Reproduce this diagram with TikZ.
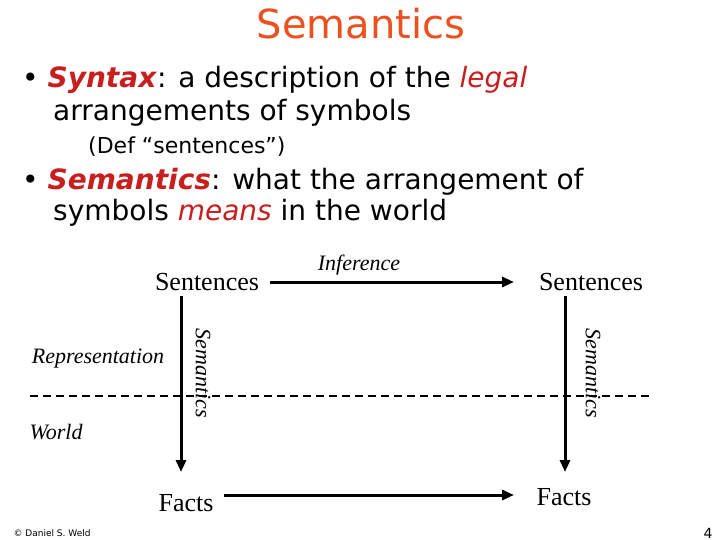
\documentclass[tikz,border=0pt]{standalone}
\usepackage{fontspec}
\setmainfont{Liberation Serif}
\newfontfamily\bul{DejaVu Sans}
\usetikzlibrary{arrows.meta}
\definecolor{ttl}{RGB}{235,80,30}
\definecolor{emr}{RGB}{200,30,30}
\tikzset{
  btxt/.style={anchor=base west,inner sep=0,font=\bul\fontsize{28}{32}\selectfont},
  sent/.style={inner sep=0,font=\fontsize{26}{30}\selectfont},
  lab/.style={inner sep=0,font=\itshape\fontsize{22}{26}\selectfont},
  arr/.style={line width=3pt,-{Triangle[length=12pt,width=10pt]}}
}
\begin{document}
\begin{tikzpicture}[x=1pt,y=-1pt]
\useasboundingbox (0,0) rectangle (720,540);
\node[inner sep=0,text=ttl,font=\bul\fontsize{40}{44}\selectfont] (title) at (361,24) {Semantics};
\node[btxt] (b1) at (22,88) {• \textcolor{emr}{\textbf{\textit{Syntax}}}: a description of the \textcolor{emr}{\textit{legal}}};
\node[btxt] (b1b) at (53,121) {arrangements of symbols};
\node[btxt,font=\bul\fontsize{22}{26}\selectfont] (def) at (88,154) {(Def “sentences”)};
\node[btxt] (b2) at (22,190) {• \textcolor{emr}{\textbf{\textit{Semantics}}}: what the arrangement of};
\node[btxt] (b2b) at (53,221) {symbols \textcolor{emr}{\textit{means}} in the world};
\node[sent] (s1) at (207,282) {Sentences};
\node[sent] (s2) at (591,282) {Sentences};
\node[sent] (f1) at (186,503) {Facts};
\node[sent] (f2) at (564,497) {Facts};
\coordinate (a1s) at (270,282); \coordinate (a1e) at (514,282);
\draw[arr] (a1s) -- (a1e);
\node[lab] (inf) at (359,265) {Inference};
\coordinate (l1) at (181,296); \coordinate (l2) at (181,472);
\draw[arr] (l1) -- (l2);
\coordinate (r1) at (565,296); \coordinate (r2) at (565,472);
\draw[arr] (r1) -- (r2);
\node[lab,rotate=-90] (sl) at (203,373) {Semantics};
\node[lab,rotate=-90] (sr) at (593,373) {Semantics};
\coordinate (d1) at (30,396); \coordinate (d2) at (652,396);
\draw[line width=2pt,dash pattern=on 8pt off 5pt] (d1) -- (d2);
\node[lab] (rep) at (98,359) {Representation};
\node[lab] (wld) at (56,432) {World};
\coordinate (b1s) at (224,495); \coordinate (b1e) at (514,495);
\draw[arr] (b1s) -- (b1e);
\node[inner sep=0,font=\bul\fontsize{9}{10}\selectfont] (cp) at (52,533) {© Daniel S. Weld};
\node[inner sep=0,font=\bul\fontsize{14}{16}\selectfont] (pg) at (708,533) {4};
\end{tikzpicture}
\end{document}
